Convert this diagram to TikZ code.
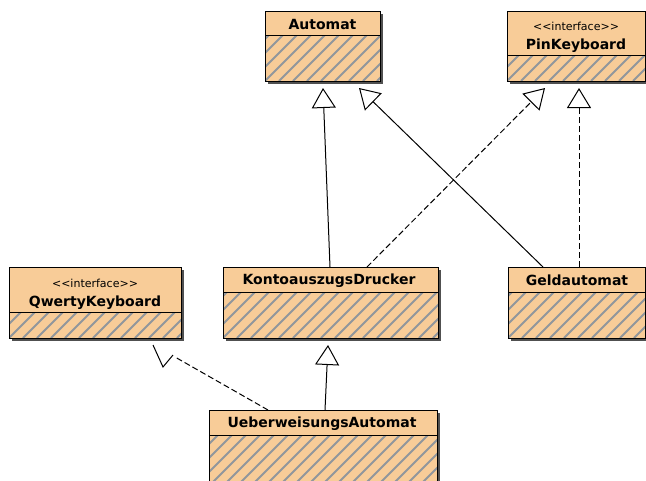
\documentclass[tikz,border=0pt]{standalone}
\usepackage{fontspec}
\setmainfont{DejaVu Sans}
\usetikzlibrary{arrows.meta,calc}
\definecolor{boxc}{RGB}{248,204,152}
\definecolor{hatchc}{RGB}{145,150,156}
\definecolor{shadc}{RGB}{80,80,80}
\tikzset{
  hatchline/.style={draw=hatchc,line width=2pt},
  border/.style={draw=black,line width=0.9pt},
  conn/.style={line width=1pt,-{Triangle[length=20pt,width=24pt,fill=white]}},
  realize/.style={conn,dash pattern=on 6pt off 3pt},
  clsname/.style={font=\fontsize{14}{16}\selectfont\bfseries,inner sep=0pt},
  stereo/.style={font=\fontsize{11}{13}\selectfont,inner sep=0pt}
}
% name, x1, y1, x2, y2, yheader
\newcommand\umlcls[6]{%
  \fill[shadc] (#2+3,#3+3) rectangle (#4+3,#5+3);
  \node[inner sep=0pt,outer sep=0pt,minimum width={(#4-#2)*1pt},minimum height={(#5-#3)*1pt},anchor=north west,fill=boxc] (#1) at (#2,#3) {};
  \begin{scope}
    \clip (#2,#6) rectangle (#4,#5);
    \foreach \k in {-84,-70,...,250} {\draw[hatchline] (#2+\k,#5) -- ++(90,-90);}
  \end{scope}
  \draw[border] (#2,#3) rectangle (#4,#5);
  \draw[border] (#2,#6) -- (#4,#6);
}
\begin{document}
\begin{tikzpicture}[x=1pt,y=-1pt]
\useasboundingbox (0,0) rectangle (646,480);
\clip (0,0) rectangle (646,480);
\fill[white] (0,0) rectangle (646,480);

\umlcls{automat}{265}{11}{380}{81}{35}
\node[clsname] (automatT) at (322.5,24) {Automat};

\umlcls{pin}{507}{11}{645}{81}{55}
\node[stereo] (pinS) at (576,26) {<{}<interface>{}>};
\node[clsname] (pinT) at (576,45.5) {PinKeyboard};

\umlcls{qwerty}{9}{267}{181}{338}{312}
\node[stereo] (qwS) at (95,283) {<{}<interface>{}>};
\node[clsname] (qwT) at (95,302.5) {QwertyKeyboard};

\umlcls{kd}{223}{267}{438}{338}{292}
\node[clsname] (kdT) at (329,280.5) {KontoauszugsDrucker};

\umlcls{geld}{508}{267}{645}{338}{292}
\node[clsname] (geldT) at (577,280.5) {Geldautomat};

\umlcls{ueb}{209}{410}{437}{500}{435}
\node[clsname] (uebT) at (322,423.5) {UeberweisungsAutomat};

% arrow tips
\coordinate (tA1) at (323,88);
\coordinate (tA2) at (359,88);
\coordinate (tP1) at (545,88);
\coordinate (tP2) at (579,88);
\coordinate (tK) at (328,345);
\coordinate (tQ) at (175,357);

\draw[conn] ($(kd.north west)+(107,0)$) -- (tA1);
\draw[conn] ($(geld.north west)+(35,0)$) -- (tA2);
\draw[realize] ($(kd.north west)+(144,0)$) -- (tP1);
\draw[realize] ($(geld.north west)+(71,0)$) -- (tP2);
\draw[conn] ($(ueb.north west)+(116,0)$) -- (tK);
\draw[line width=1pt,dash pattern=on 6pt off 3pt] ($(ueb.north west)+(59,0)$) -- (tQ);
\draw[line width=1pt] (153,345) -- (163,367) -- (173,355);
\end{tikzpicture}
\end{document}
